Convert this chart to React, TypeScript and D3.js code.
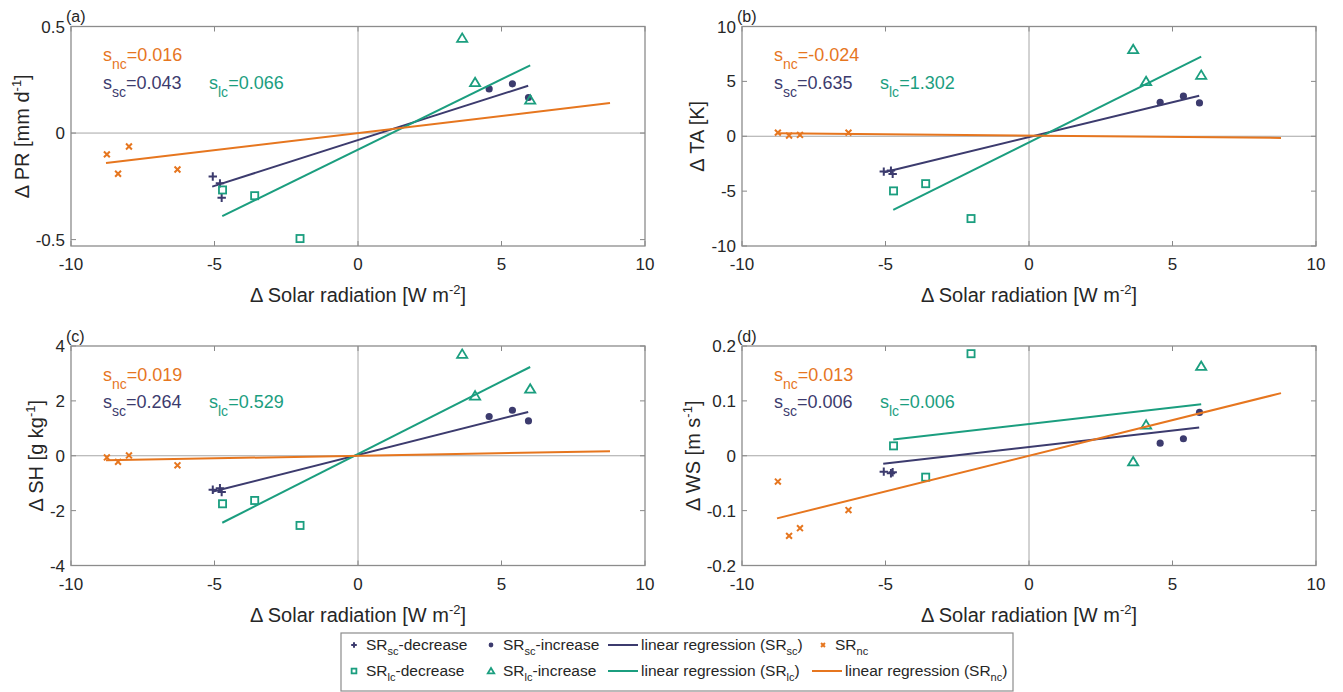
import React from "react";
import * as d3 from "d3";

const NAVY = "#3c3b6e";
const GREEN = "#1b9e7f";
const ORANGE = "#e6761f";
const FONT = "'Liberation Sans', Arial, Helvetica, sans-serif";

// solar radiation change of each group (same in all four panels)
const scDecX = [-5.06, -4.81, -4.75];
const scIncX = [4.57, 5.38, 5.94];
const lcDecX = [-4.72, -3.6, -2.02];
const lcIncX = [3.63, 4.08, 6.0];
const ncX = [-8.75, -8.36, -7.98, -6.29];

// responses, one row per panel (PR, TA, SH, WS)
const scDecY = [
  [-0.204, -0.236, -0.304],
  [-3.22, -3.13, -3.43],
  [-1.24, -1.18, -1.32],
  [-0.029, -0.032, -0.03],
];
const scIncY = [
  [0.207, 0.231, 0.167],
  [3.1, 3.65, 3.04],
  [1.43, 1.66, 1.27],
  [0.023, 0.031, 0.079],
];
const lcDecY = [
  [-0.267, -0.294, -0.495],
  [-4.98, -4.32, -7.5],
  [-1.75, -1.63, -2.54],
  [0.018, -0.039, 0.186],
];
const lcIncY = [
  [0.445, 0.237, 0.155],
  [7.9, 4.98, 5.56],
  [3.7, 2.18, 2.43],
  [-0.011, 0.056, 0.163],
];
const ncY = [
  [-0.1, -0.191, -0.063, -0.171],
  [0.33, 0.06, 0.12, 0.33],
  [-0.06, -0.22, 0.01, -0.35],
  [-0.047, -0.146, -0.132, -0.099],
];

// regression fits
const slopeNc = [0.016, -0.024, 0.019, 0.013];
const slopeSc = [0.043, 0.635, 0.264, 0.006];
const slopeLc = [0.066, 1.302, 0.529, 0.006];
const interceptNc = [0, 0.06, 0, 0];
const interceptSc = [-0.033, -0.07, 0.03, 0.016];
const interceptLc = [-0.078, -0.55, 0.06, 0.058];
const fitRangeSc = [-5.08, 5.93];
const fitRangeLc = [-4.73, 6.0];
const fitRangeNc = [-8.78, 8.78];

const panelIds = ["(a)", "(b)", "(c)", "(d)"];
const yLabels = [
  ["Δ PR [mm d", "-1", "]"],
  ["Δ TA [K]", "", ""],
  ["Δ SH [g kg", "-1", "]"],
  ["Δ WS [m s", "-1", "]"],
];
const yDomains = [
  [-0.53, 0.5],
  [-10, 10],
  [-4, 4],
  [-0.2, 0.2],
];
const yTicks = [
  [-0.5, 0, 0.5],
  [-10, -5, 0, 5, 10],
  [-4, -2, 0, 2, 4],
  [-0.2, -0.1, 0, 0.1, 0.2],
];
const xTicks = [-10, -5, 0, 5, 10];

const legendRows = [
  [
    { kind: "plus", color: NAVY, text: ["SR", "sc", "-decrease"] },
    { kind: "dot", color: NAVY, text: ["SR", "sc", "-increase"] },
    { kind: "line", color: NAVY, text: ["linear regression (SR", "sc", ")"] },
    { kind: "x", color: ORANGE, text: ["SR", "nc", ""] },
  ],
  [
    { kind: "square", color: GREEN, text: ["SR", "lc", "-decrease"] },
    { kind: "tri", color: GREEN, text: ["SR", "lc", "-increase"] },
    { kind: "line", color: GREEN, text: ["linear regression (SR", "lc", ")"] },
    { kind: "line", color: ORANGE, text: ["linear regression (SR", "nc", ")"] },
  ],
];

const boxes = [
  { x: 71, y: 26.5 },
  { x: 742, y: 26.5 },
  { x: 71, y: 346 },
  { x: 742, y: 346 },
];
const W = 574;
const H = 219.5;

function textWidth(s: string, size: number) {
  let w = 0;
  for (const c of s) w += c === "-" ? 0.333 : c === "." ? 0.278 : 0.556;
  return w * size;
}

function Marker({ kind, x, y, s, color }: any) {
  if (kind === "plus")
    return (
      <path d={`M${x - s},${y}H${x + s}M${x},${y - s}V${y + s}`} stroke={color} strokeWidth={2} fill="none" />
    );
  if (kind === "dot") return <circle cx={x} cy={y} r={s * 0.85} fill={color} />;
  if (kind === "square")
    return (
      <rect x={x - s * 0.85} y={y - s * 0.85} width={s * 1.7} height={s * 1.7} stroke={color} strokeWidth={1.8} fill="none" />
    );
  if (kind === "tri") {
    const h = s * 1.1;
    return (
      <path d={`M${x},${y - h}L${x + h * 1.05},${y + h * 0.75}L${x - h * 1.05},${y + h * 0.75}Z`} stroke={color} strokeWidth={1.8} fill="none" />
    );
  }
  const k = s * 0.7;
  return (
    <path d={`M${x - k},${y - k}L${x + k},${y + k}M${x - k},${y + k}L${x + k},${y - k}`} stroke={color} strokeWidth={2} fill="none" />
  );
}

function Panel({ i }: { i: number }) {
  const b = boxes[i];
  const x = d3.scaleLinear().domain([-10, 10]).range([b.x, b.x + W]);
  const y = d3.scaleLinear().domain(yDomains[i]).range([b.y + H, b.y]);
  const fit = (range: number[], m: number, c: number) =>
    d3.line<number>().x((v) => x(v)).y((v) => y(m * v + c))(range) || "";
  const pts = (xs: number[], ys: number[], kind: string, color: string, s: number) =>
    xs.map((v, k) => <Marker key={kind + k} kind={kind} x={x(v)} y={y(ys[k])} s={s} color={color} />);
  const maxTick = d3.max(yTicks[i], (t) => textWidth(String(t), 17)) || 0;
  const ylx = b.x - 13 - maxTick;
  const yc = b.y + H / 2;
  const fmt = (v: number) => String(v);
  const tl = 5;
  return (
    <g>
      <line x1={x(0)} x2={x(0)} y1={b.y} y2={b.y + H} stroke="#a6a6a6" strokeWidth={1} />
      <line x1={b.x} x2={b.x + W} y1={y(0)} y2={y(0)} stroke="#a6a6a6" strokeWidth={1} />
      {xTicks.map((t) => (
        <g key={"xt" + t}>
          <line x1={x(t)} x2={x(t)} y1={b.y + H} y2={b.y + H - tl} stroke="#888" />
          <line x1={x(t)} x2={x(t)} y1={b.y} y2={b.y + tl} stroke="#888" />
          <text x={x(t)} y={b.y + H + 24} textAnchor="middle" fontSize={17} fill="#262626">
            {fmt(t)}
          </text>
        </g>
      ))}
      {yTicks[i].map((t) => (
        <g key={"yt" + t}>
          <line x1={b.x} x2={b.x + tl} y1={y(t)} y2={y(t)} stroke="#888" />
          <line x1={b.x + W} x2={b.x + W - tl} y1={y(t)} y2={y(t)} stroke="#888" />
          <text x={b.x - 6} y={y(t) + 6} textAnchor="end" fontSize={17} fill="#262626">
            {fmt(t)}
          </text>
        </g>
      ))}
      <rect x={b.x} y={b.y} width={W} height={H} fill="none" stroke="#8c8c8c" strokeWidth={1.3} />

      {pts(scDecX, scDecY[i], "plus", NAVY, 4.2)}
      {pts(scIncX, scIncY[i], "dot", NAVY, 4.2)}
      <path d={fit(fitRangeSc, slopeSc[i], interceptSc[i])} stroke={NAVY} strokeWidth={2} fill="none" />
      {pts(lcDecX, lcDecY[i], "square", GREEN, 4.2)}
      {pts(lcIncX, lcIncY[i], "tri", GREEN, 4.4)}
      <path d={fit(fitRangeLc, slopeLc[i], interceptLc[i])} stroke={GREEN} strokeWidth={2} fill="none" />
      {pts(ncX, ncY[i], "x", ORANGE, 4.2)}
      <path d={fit(fitRangeNc, slopeNc[i], interceptNc[i])} stroke={ORANGE} strokeWidth={2} fill="none" />

      <text x={b.x + 32} y={b.y + 34.5} fontSize={18} fill={ORANGE}>
        s<tspan dy={8} fontSize={14}>nc</tspan>
        <tspan dy={-8}>={slopeNc[i].toFixed(3)}</tspan>
      </text>
      <text x={b.x + 32} y={b.y + 62} fontSize={18} fill={NAVY}>
        s<tspan dy={8} fontSize={14}>sc</tspan>
        <tspan dy={-8}>={slopeSc[i].toFixed(3)}</tspan>
      </text>
      <text x={b.x + 138} y={b.y + 62} fontSize={18} fill={GREEN}>
        s<tspan dy={8} fontSize={14}>lc</tspan>
        <tspan dy={-8}>={slopeLc[i].toFixed(3)}</tspan>
      </text>

      <text x={b.x - 5} y={b.y - 4.5} fontSize={16} fill="#262626">
        {panelIds[i]}
      </text>
      <text x={b.x + W / 2} y={b.y + H + 56} textAnchor="middle" fontSize={20} fill="#262626">
        Δ Solar radiation [W m<tspan dy={-8} fontSize={13}>-2</tspan>
        <tspan dy={8}>]</tspan>
      </text>
      <text transform={`translate(${ylx},${yc}) rotate(-90)`} textAnchor="middle" fontSize={20} fill="#262626">
        {yLabels[i][0]}
        {yLabels[i][1] ? (
          <tspan dy={-8} fontSize={13}>
            {yLabels[i][1]}
          </tspan>
        ) : null}
        {yLabels[i][2] ? <tspan dy={8}>{yLabels[i][2]}</tspan> : null}
      </text>
    </g>
  );
}

function Legend() {
  const left = 341;
  const top = 633;
  const colX = [341, 478, 606, 810];
  const rowY = [650, 676];
  return (
    <g>
      <rect x={left} y={top} width={672} height={58} fill="#fff" stroke="#8c8c8c" strokeWidth={1.2} />
      {legendRows.map((row, r) =>
        row.map((it, c) => {
          const cx = colX[c];
          const cy = rowY[r] - 5;
          const tx = it.kind === "line" ? cx + 35 : cx + 25;
          return (
            <g key={r + "-" + c}>
              {it.kind === "line" ? (
                <line x1={cx + 2} x2={cx + 32} y1={cy} y2={cy} stroke={it.color} strokeWidth={2} />
              ) : (
                <Marker kind={it.kind} x={cx + 13} y={cy} s={2.8} color={it.color} />
              )}
              <text x={tx} y={rowY[r]} fontSize={15.5} fill="#262626">
                {it.text[0]}
                <tspan dy={5} fontSize={11}>
                  {it.text[1]}
                </tspan>
                {it.text[2] ? <tspan dy={-5}>{it.text[2]}</tspan> : null}
              </text>
            </g>
          );
        })
      )}
    </g>
  );
}

export default function App() {
  return (
    <svg
      width={1343}
      height={692}
      style={{ position: "absolute", left: 0, top: 0, background: "#fff", fontFamily: FONT }}
    >
      {[0, 1, 2, 3].map((i) => (
        <Panel key={i} i={i} />
      ))}
      <Legend />
    </svg>
  );
}
